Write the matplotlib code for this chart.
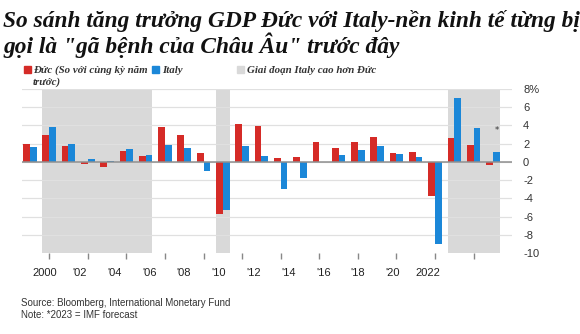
import numpy as np
import matplotlib
matplotlib.use('Agg')
import matplotlib.pyplot as plt
from matplotlib.patches import Rectangle

# so lieu (% tang truong GDP so voi cung ky)
years = np.arange(1999, 2024)
duc = [2.0, 3.0, 1.7, -0.2, -0.6, 1.2, 0.7, 3.8, 3.0, 1.0, -5.7, 4.2, 3.9, 0.4,
       0.5, 2.2, 1.5, 2.2, 2.7, 1.0, 1.1, -3.7, 2.6, 1.8, -0.3]
italy = [1.6, 3.8, 2.0, 0.3, 0.1, 1.4, 0.8, 1.8, 1.5, -1.0, -5.3, 1.7, 0.7, -3.0,
         -1.8, 0.0, 0.8, 1.3, 1.7, 0.9, 0.5, -9.0, 7.0, 3.7, 1.1]
# giai doan Italy tang truong cao hon Duc
shade_periods = [(2000, 2005), (2009, 2009), (2021, 2023)]
yticks = [8, 6, 4, 2, 0, -2, -4, -6, -8, -10]
ytick_labels = ['8%', '6', '4', '2', '0', '-2', '-4', '-6', '-8', '-10']
xtick_years = np.arange(2000, 2023, 2)
xtick_labels = ['2000', "'02", "'04", "'06", "'08", "'10", "'12", "'14", "'16", "'18", "'20", '2022']

red = '#d52b27'
blue = '#1b87d8'
gray = '#d9d9d9'

W, H = 580, 334
fig = plt.figure(figsize=(5.8, 3.34), dpi=100)
ax = fig.add_axes([22 / W, (H - 253) / H, 490 / W, 164 / H])

bw = 0.35
ax.bar(years - bw, duc, width=bw, align='edge', color=red, zorder=3)
ax.bar(years, italy, width=bw, align='edge', color=blue, zorder=3)
for a, b in shade_periods:
    ax.axvspan(a - bw, b + bw, color=gray, zorder=0, lw=0)
for y in yticks[:-1]:
    ax.axhline(y, color='#e0e0e0', lw=0.9, zorder=1)
ax.axhline(0, color='#8f8f8f', lw=1.1, zorder=4)
ax.text(2023.2, 3.4, '*', fontsize=6, ha='center', va='center', color='#333333')

ax.set_xlim(1998.59, 2023.99)
ax.set_ylim(-10, 8)
for s in ax.spines.values():
    s.set_visible(False)

ax.yaxis.tick_right()
ax.set_yticks(yticks)
ax.set_yticklabels(ytick_labels, fontsize=8, family='Liberation Sans', color='#333333')
ax.tick_params(axis='y', length=0, pad=8)

ax.set_xticks(xtick_years)
ax.set_xticklabels([])
ax.tick_params(axis='x', length=4, width=1, color='#888888', direction='out')

# nhan truc hoanh (hoi lech so voi vach chia nhu ban goc)
fwd = lambda x: 2000 + (x - 1999.78) / 0.9015
inv = lambda y: 1999.78 + (y - 2000) * 0.9015
sec = ax.secondary_xaxis('bottom', functions=(fwd, inv))
sec.set_xticks(xtick_years)
sec.set_xticklabels(xtick_labels, fontsize=8, family='Liberation Sans', color='#222222')
sec.tick_params(length=0, pad=11)
sec.spines['bottom'].set_visible(False)

# tieu de
title_font = dict(fontsize=16.8, family='Liberation Serif', weight='bold', style='italic',
                  color='#111111', va='baseline')
fig.text(3 / W, 1 - 27 / H, 'So sánh tăng trưởng GDP Đức với Italy-nền kinh tế từng bị', **title_font)
fig.text(3 / W, 1 - 53 / H, 'gọi là "gã bệnh của Châu Âu" trước đây', **title_font)

# chu thich
leg_font = dict(fontsize=7.8, family='Liberation Serif', weight='bold', style='italic',
                color='#333333', va='baseline')
for x0, c in [(24, red), (152, blue), (237, gray)]:
    fig.add_artist(Rectangle((x0 / W, 1 - 73 / H), 7 / W, 7 / H, color=c,
                             transform=fig.transFigure))
fig.text(33 / W, 1 - 73 / H, 'Đức (So với cùng kỳ năm', **leg_font)
fig.text(33 / W, 1 - 85 / H, 'trước)', **leg_font)
fig.text(162 / W, 1 - 73 / H, 'Italy', **leg_font)
fig.text(247 / W, 1 - 73 / H, 'Giai đoạn Italy cao hơn Đức', **leg_font)

# nguon
src_font = dict(fontsize=7, family='Liberation Sans', color='#333333', va='baseline')
fig.text(21 / W, 1 - 306 / H, 'Source: Bloomberg, International Monetary Fund', **src_font)
fig.text(21 / W, 1 - 318 / H, 'Note: *2023 = IMF forecast', **src_font)

fig.savefig('out.png', dpi=100)
